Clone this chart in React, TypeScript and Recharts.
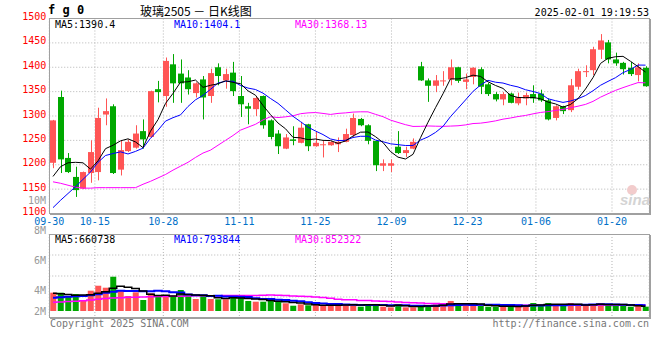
// GlassKLine.tsx - 玻璃2505 daily K-line with volume
import { ComposedChart, Bar, Line, XAxis, YAxis, CartesianGrid, Cell } from 'recharts';

// trading days, 2024-09-30 .. 2025-01-27
const dates = [
  '09-30', '10-08', '10-09', '10-10', '10-11', '10-14', '10-15', '10-16', '10-17', '10-18',
  '10-21', '10-22', '10-23', '10-24', '10-25', '10-28', '10-29', '10-30', '10-31', '11-01',
  '11-04', '11-05', '11-06', '11-07', '11-08', '11-11', '11-12', '11-13', '11-14', '11-15',
  '11-18', '11-19', '11-20', '11-21', '11-22', '11-25', '11-26', '11-27', '11-28', '11-29',
  '12-02', '12-03', '12-04', '12-05', '12-06', '12-09', '12-10', '12-11', '12-12', '12-13',
  '12-16', '12-17', '12-18', '12-19', '12-20', '12-23', '12-24', '12-25', '12-26', '12-27',
  '12-30', '12-31', '01-02', '01-03', '01-06', '01-07', '01-08', '01-09', '01-10', '01-13',
  '01-14', '01-15', '01-16', '01-17', '01-20', '01-21', '01-22', '01-23', '01-24', '01-27',
];

const opens = [
  1204, 1339, 1214, 1175, 1151, 1183, 1185, 1303, 1320, 1190,
  1228, 1235, 1269, 1257, 1355, 1341, 1406, 1387, 1379, 1347,
  1375, 1341, 1400, 1373, 1389, 1341, 1320, 1314, 1341, 1291,
  1264, 1233, 1252, 1245, 1283, 1238, 1240, 1240, 1242, 1247,
  1261, 1294, 1281, 1249, 1198, 1198, 1237, 1224, 1233, 1402,
  1373, 1362, 1371, 1375, 1400, 1370, 1380, 1396, 1365, 1345,
  1334, 1346, 1326, 1336, 1345, 1346, 1332, 1296, 1320, 1312,
  1360, 1390, 1394, 1436, 1451, 1416, 1409, 1399, 1384, 1399,
];
const highs = [
  1292, 1352, 1224, 1196, 1186, 1250, 1317, 1336, 1324, 1250,
  1252, 1281, 1293, 1352, 1372, 1420, 1427, 1416, 1394, 1369,
  1382, 1397, 1408, 1397, 1411, 1382, 1327, 1341, 1342, 1293,
  1271, 1263, 1279, 1288, 1284, 1267, 1249, 1248, 1256, 1274,
  1305, 1296, 1283, 1250, 1211, 1211, 1269, 1237, 1254, 1411,
  1377, 1384, 1392, 1416, 1401, 1387, 1400, 1400, 1368, 1349,
  1349, 1348, 1348, 1348, 1363, 1354, 1336, 1322, 1321, 1376,
  1397, 1404, 1442, 1468, 1456, 1430, 1411, 1411, 1408, 1402,
];
const lows = [
  1193, 1183, 1183, 1134, 1150, 1163, 1168, 1281, 1181, 1178,
  1226, 1233, 1233, 1255, 1328, 1319, 1327, 1327, 1344, 1338,
  1293, 1327, 1363, 1356, 1341, 1298, 1283, 1300, 1274, 1252,
  1222, 1232, 1240, 1244, 1228, 1237, 1215, 1239, 1226, 1246,
  1257, 1279, 1242, 1187, 1187, 1185, 1222, 1216, 1232, 1372,
  1329, 1349, 1362, 1363, 1368, 1355, 1365, 1345, 1341, 1330,
  1322, 1326, 1322, 1322, 1327, 1329, 1291, 1291, 1304, 1308,
  1354, 1380, 1384, 1417, 1408, 1403, 1385, 1382, 1371, 1360,
];
const closes = [
  1291, 1211, 1185, 1148, 1185, 1226, 1296, 1310, 1183, 1230,
  1247, 1264, 1252, 1351, 1349, 1413, 1367, 1367, 1355, 1367,
  1338, 1388, 1382, 1386, 1351, 1324, 1315, 1337, 1281, 1257,
  1238, 1256, 1249, 1276, 1238, 1245, 1242, 1247, 1247, 1263,
  1296, 1281, 1249, 1199, 1203, 1203, 1224, 1230, 1247, 1373,
  1362, 1373, 1373, 1400, 1372, 1375, 1399, 1360, 1345, 1334,
  1345, 1327, 1339, 1343, 1336, 1332, 1293, 1320, 1310, 1363,
  1392, 1392, 1437, 1455, 1416, 1408, 1396, 1386, 1400, 1361,
];

const ma5 = [
  1176, 1196, 1204, 1205, 1204, 1191, 1208, 1233, 1240, 1249,
  1253.2, 1246.8, 1235.2, 1268.8, 1292.6, 1325.8, 1346.4, 1369.4, 1370.2, 1373.8,
  1358.8, 1363, 1366, 1372.2, 1369, 1366.2, 1351.6, 1342.6, 1321.6, 1302.8,
  1285.6, 1273.8, 1256.2, 1255.2, 1251.4, 1252.8, 1250, 1249.6, 1243.8, 1248.8,
  1259, 1266.8, 1267.2, 1257.6, 1245.6, 1227, 1215.6, 1211.8, 1221.4, 1255.4,
  1287.2, 1317, 1345.6, 1376.2, 1376, 1378.6, 1383.8, 1381.2, 1370.2, 1362.6,
  1356.6, 1342.2, 1338, 1337.6, 1338, 1335.4, 1328.6, 1324.8, 1318.2, 1323.6,
  1335.6, 1355.4, 1378.8, 1407.8, 1418.4, 1421.6, 1422.4, 1412.2, 1401.2, 1390.2,
];
const ma10 = [
  1112, 1127, 1141, 1155, 1170, 1185, 1205, 1219, 1223, 1226.5,
  1222.1, 1227.4, 1234.1, 1254.4, 1270.8, 1289.5, 1296.6, 1302.3, 1319.5, 1333.2,
  1342.3, 1354.7, 1367.7, 1371.2, 1371.4, 1362.5, 1357.3, 1354.3, 1346.9, 1335.9,
  1325.9, 1312.7, 1299.4, 1288.4, 1277.1, 1269.2, 1261.9, 1252.9, 1249.5, 1250.1,
  1255.9, 1258.4, 1258.4, 1250.7, 1247.2, 1243, 1241.2, 1239.5, 1239.5, 1250.5,
  1257.1, 1266.3, 1278.7, 1298.8, 1315.7, 1332.9, 1350.4, 1363.4, 1373.2, 1369.3,
  1367.6, 1363, 1359.6, 1353.9, 1350.3, 1346, 1335.4, 1331.4, 1327.9, 1330.8,
  1335.5, 1342, 1351.8, 1363, 1371, 1378.6, 1388.9, 1395.5, 1404.5, 1404.3,
];
const ma30 = [
  1165, 1162, 1158, 1154, 1152, 1152, 1153, 1153, 1153, 1153,
  1153, 1153, 1160, 1166, 1173, 1180, 1189, 1197, 1205, 1215,
  1224, 1230, 1240, 1250, 1260, 1271, 1277, 1283, 1292, 1298.5,
  1296.8, 1298.3, 1300.4, 1304.7, 1306.4, 1307.1, 1305.3, 1303.2, 1305.3, 1306.4,
  1308, 1308.6, 1308.5, 1303.4, 1298.6, 1291.6, 1286.8, 1282.2, 1278.6, 1278.8,
  1279.6, 1279.1, 1278.8, 1279.3, 1280, 1281.7, 1284.5, 1285.3, 1287.4, 1290,
  1293.5, 1295.9, 1298.9, 1301.1, 1304.4, 1307.3, 1309, 1311.4, 1313.5, 1316.9,
  1320.1, 1323.8, 1330, 1338.6, 1345.7, 1352.5, 1358.2, 1363.4, 1368.5, 1368.1,
];

// volume, 万手
const volumes = [
  250, 250, 205, 232, 150, 277, 345, 318, 468, 287,
  205, 255, 150, 242, 205, 218, 205, 287, 209, 164,
  214, 164, 160, 160, 209, 191, 137, 127, 127, 137,
  137, 105, 72, 91, 78, 91, 68, 68, 91, 96,
  96, 59, 82, 96, 59, 50, 96, 50, 50, 68,
  82, 91, 96, 137, 96, 82, 82, 72, 59, 59,
  59, 78, 59, 82, 109, 82, 109, 82, 72, 109,
  82, 68, 96, 109, 96, 72, 68, 59, 72, 59,
];
const volMa5 = [
  241, 235, 225, 215, 217, 223, 242, 264, 312, 339,
  325, 307, 273, 228, 211, 214, 204, 231, 225, 217,
  216, 208, 182, 172, 181, 177, 171, 165, 158, 144,
  133, 127, 116, 108, 97, 87, 80, 79, 79, 83,
  84, 82, 85, 86, 78, 69, 77, 70, 61, 63,
  69, 68, 77, 95, 100, 100, 99, 94, 78, 71,
  66, 65, 63, 67, 77, 82, 88, 93, 91, 91,
  91, 83, 85, 93, 90, 88, 88, 81, 73, 66,
];
const volMa10 = [
  182, 188, 194, 200, 206, 215, 230, 248, 262, 278,
  274, 274, 269, 270, 275, 269, 255, 252, 226, 214,
  215, 206, 207, 199, 199, 196, 190, 174, 165, 163,
  155, 149, 140, 133, 120, 110, 103, 97, 94, 90,
  86, 81, 82, 83, 81, 77, 79, 78, 73, 71,
  69, 72, 74, 78, 82, 85, 83, 86, 87, 86,
  83, 82, 78, 73, 74, 74, 77, 78, 79, 84,
  86, 85, 89, 92, 91, 90, 85, 83, 83, 78,
];
const volMa30 = [
  119, 123, 128, 133, 140, 150, 160, 170, 177, 182,
  186, 189, 192, 195, 197, 199, 201, 203, 205, 207,
  208, 209, 209, 210, 210, 210, 210, 211, 215, 218,
  215, 210, 205, 201, 198, 192, 183, 174, 162, 155,
  152, 145, 143, 138, 133, 128, 124, 116, 111, 108,
  103, 101, 99, 98, 94, 91, 89, 87, 85, 82,
  79, 78, 78, 78, 79, 78, 80, 80, 80, 80,
  80, 80, 80, 81, 82, 83, 82, 82, 83, 83,
];

const dateTicks = ['09-30', '10-15', '10-28', '11-11', '11-25', '12-09', '12-23', '01-06', '01-20'];
const priceTicks = [1100, 1150, 1200, 1250, 1300, 1350, 1400, 1450, 1500];
const volAxisLabels = [10, 8, 6, 4, 2]; // shown as "10M" ...

const W = 660;
const H = 340;
const RED = '#ff5555';
const GREEN = '#00a800';
const GRID = '#b4b4b4';
const FRAME = '#a0a0a0';
const MONO = '"DejaVu Sans Mono", monospace';

// price panel 18.5..213.5, volume panel 234..318 (bars sit on y=311)
const VOL_PER_PX = 13.65;
const volDomain = [-7 * VOL_PER_PX, 77 * VOL_PER_PX];

const rows = dates.map((date, i) => ({
  date,
  idx: i,
  open: opens[i],
  high: highs[i],
  low: lows[i],
  close: closes[i],
  ma5: ma5[i],
  ma10: ma10[i],
  ma30: ma30[i],
  vol: volumes[i],
  vma5: volMa5[i],
  vma10: volMa10[i],
  vma30: volMa30[i],
}));
const tickIdx = dateTicks.map((d) => dates.indexOf(d));

const Candle = (props: any) => {
  const { x, y, width, height, payload } = props;
  const { open, close, high, low } = payload;
  const top = Math.min(y, y + height);
  const h = Math.abs(height);
  const k = high > low ? h / (high - low) : 0;
  const cx = Math.round(x + width / 2) + 0.5;
  const bodyTop = top + (high - Math.max(open, close)) * k;
  const bodyBot = top + (high - Math.min(open, close)) * k;
  const color = close >= open ? RED : GREEN;
  return (
    <g>
      <line x1={cx} x2={cx} y1={top} y2={top + h} stroke={color} strokeWidth={1} />
      <rect x={cx - 3.5} y={bodyTop} width={6} height={Math.max(1, bodyBot - bodyTop)} fill={color} />
    </g>
  );
};

const Overlay = () => {
  const volLabelY = (v: number) => Math.min(311, 320.7 - 15 * (v - 2));
  return (
    <svg width={W} height={H} style={{ position: 'absolute', left: 0, top: 0, pointerEvents: 'none' }}>
      {/* frames */}
      <rect x={49.5} y={18.5} width={600} height={195} fill="none" stroke={FRAME} />
      <line x1={650.5} x2={650.5} y1={19} y2={215} stroke={FRAME} />
      <line x1={50} x2={651} y1={214.5} y2={214.5} stroke={FRAME} />
      <rect x={49.5} y={234.5} width={600} height={83} fill="none" stroke={FRAME} />
      <line x1={650.5} x2={650.5} y1={235} y2={319} stroke={FRAME} />
      <line x1={50} x2={651} y1={318.5} y2={318.5} stroke={FRAME} />

      {/* header */}
      <text x={48} y={10} fontFamily={MONO} fontWeight="bold" fontSize={12} dominantBaseline="central">f g 0</text>
      <text x={140} y={10} fontFamily='"Noto Sans CJK SC", sans-serif' fontSize={12} dominantBaseline="central">玻璃2505 － 日K线图</text>
      <text x={649} y={12} fontFamily={MONO} fontSize={10} textAnchor="end" dominantBaseline="central">2025-02-01 19:19:53</text>

      {/* MA legends */}
      <g fontFamily={MONO} fontSize={10} dominantBaseline="central">
        <text x={55} y={24} fill="#000">MA5:1390.4</text>
        <text x={174} y={24} fill="#0000ff">MA10:1404.1</text>
        <text x={295} y={24} fill="#ff00ff">MA30:1368.13</text>
        <text x={55} y={239} fill="#000">MA5:660738</text>
        <text x={174} y={239} fill="#0000ff">MA10:793844</text>
        <text x={295} y={239} fill="#ff00ff">MA30:852322</text>
      </g>

      {/* volume axis labels */}
      <g fontFamily={MONO} fontSize={10} fill="#999" textAnchor="end" dominantBaseline="central">
        {volAxisLabels.map((v) => (
          <text key={v} x={46} y={volLabelY(v)}>{`${v}M`}</text>
        ))}
      </g>

      {/* watermark */}
      <circle cx={632} cy={190} r={5} fill="#f2cccc" />
      <text x={620} y={205} fontFamily='"Liberation Sans", sans-serif' fontSize={15} fontWeight="bold" fontStyle="italic" fill="#d4d4d4">sina</text>

      {/* footer */}
      <g fontFamily={MONO} fontSize={10} fill="#777" dominantBaseline="central">
        <text x={50} y={323}>Copyright 2025 SINA.COM</text>
        <text x={649} y={323} textAnchor="end">http://finance.sina.com.cn</text>
      </g>
    </svg>
  );
};

const App = () => {
  return (
    <div style={{ position: 'absolute', left: 0, top: 0, width: W, height: H, background: '#fff', fontFamily: MONO }}>
      {/* price panel */}
      <div style={{ position: 'absolute', left: 0, top: 0 }}>
        <ComposedChart width={W} height={H} data={rows} margin={{ top: 18.5, right: 10.75, bottom: 106.5, left: 0 }}>
          <CartesianGrid stroke={GRID} strokeDasharray="1 2" />
          <XAxis xAxisId="c" dataKey="date" hide />
          <XAxis
            dataKey="idx"
            type="number"
            domain={[0, 78.9]}
            allowDataOverflow
            ticks={tickIdx}
            interval={0}
            tickFormatter={(v: number) => dates[v]}
            axisLine={false}
            tickLine={false}
            tickSize={0}
            tickMargin={4}
            height={20}
            tick={{ fill: '#0070c8', fontSize: 10, fontFamily: MONO }}
          />
          <YAxis
            domain={[1100, 1500]}
            ticks={priceTicks}
            interval={0}
            allowDataOverflow
            width={49.25}
            axisLine={false}
            tickLine={false}
            tickSize={0}
            tickMargin={3}
            tick={{ fill: '#ff0000', fontSize: 10, fontFamily: MONO, dy: -2 }}
          />
          <Bar xAxisId="c" dataKey={(d: any) => [d.low, d.high]} barSize={6} shape={Candle} isAnimationActive={false} />
          <Line xAxisId="c" dataKey="ma30" stroke="#ff00ff" strokeWidth={1} dot={false} isAnimationActive={false} />
          <Line xAxisId="c" dataKey="ma10" stroke="#0000ff" strokeWidth={1} dot={false} isAnimationActive={false} />
          <Line xAxisId="c" dataKey="ma5" stroke="#000000" strokeWidth={1} dot={false} isAnimationActive={false} />
        </ComposedChart>
      </div>

      {/* volume panel */}
      <div style={{ position: 'absolute', left: 0, top: 0 }}>
        <ComposedChart width={W} height={H} data={rows} margin={{ top: 234, right: 10.75, bottom: 22, left: 49.25 }}>
          <CartesianGrid
            stroke={GRID}
            strokeDasharray="1 2"
            horizontalCoordinatesGenerator={({ offset }: any) => [0.25, 0.5, 0.75].map((f) => offset.top + offset.height * f)}
          />
          <XAxis xAxisId="c" dataKey="date" hide />
          <XAxis dataKey="idx" type="number" domain={[0, 78.9]} allowDataOverflow ticks={tickIdx} interval={0} hide />
          <YAxis domain={volDomain} allowDataOverflow hide />
          <Bar xAxisId="c" dataKey="vol" barSize={6} isAnimationActive={false}>
            {rows.map((r, i) => (
              <Cell key={i} fill={r.close >= r.open ? RED : GREEN} />
            ))}
          </Bar>
          <Line xAxisId="c" type="step" dataKey="vma30" stroke="#ff00ff" strokeWidth={1.5} dot={false} isAnimationActive={false} />
          <Line xAxisId="c" type="step" dataKey="vma10" stroke="#0000ff" strokeWidth={2} dot={false} isAnimationActive={false} />
          <Line xAxisId="c" type="step" dataKey="vma5" stroke="#000000" strokeWidth={1.5} dot={false} isAnimationActive={false} />
        </ComposedChart>
      </div>

      <Overlay />
    </div>
  );
};

export default App;
